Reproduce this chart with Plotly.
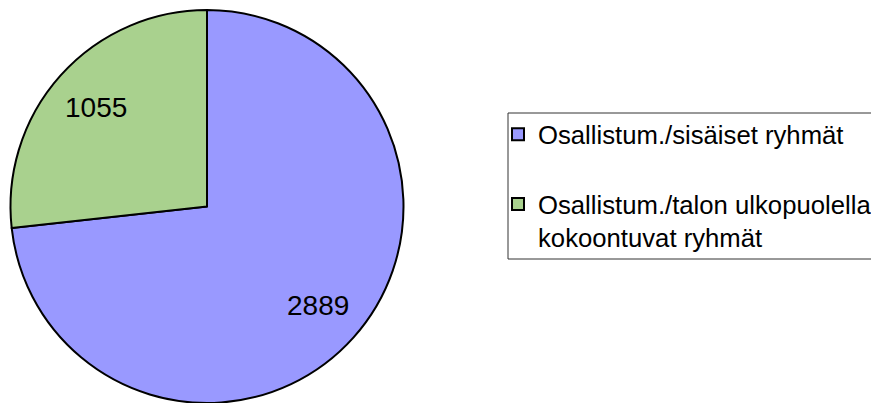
import math
import plotly.graph_objects as go

categories = ["Osallistum./sisäiset ryhmät", "Osallistum./talon ulkopuolella<br>kokoontuvat ryhmät"]
values = [2889, 1055]
colors = ["#9999FF", "#A9D18E"]

W, H = 871, 403
dom_x = [10 / W, 404 / W]
dom_y = [0.0, 1 - 10 / H]
label_r = 0.755  # label distance as a fraction of the radius
FONT = "Liberation Sans, Arial, sans-serif"

# extra blank line after the first entry reproduces the legend spacing
legend_labels = [categories[0] + "<br> ", categories[1]]

fig = go.Figure(go.Pie(
    labels=legend_labels,
    values=values,
    sort=False,
    direction="clockwise",
    rotation=0,
    marker=dict(colors=colors, line=dict(color="#000000", width=2)),
    textinfo="none",
    domain=dict(x=dom_x, y=dom_y),
    hoverinfo="label+value",
))

# value labels placed along each slice bisector
total = sum(values)
cx = (dom_x[0] + dom_x[1]) / 2 * W
cy = (1 - (dom_y[0] + dom_y[1]) / 2) * H
R = min((dom_x[1] - dom_x[0]) * W, (dom_y[1] - dom_y[0]) * H) / 2
cum = 0
for v in values:
    mid = (cum + v / 2) / total * 2 * math.pi
    cum += v
    px = cx + label_r * R * math.sin(mid)
    py = cy - label_r * R * math.cos(mid)
    fig.add_annotation(
        x=px / W, y=1 - py / H, xref="paper", yref="paper",
        text=str(v), showarrow=False,
        font=dict(family=FONT, size=28, color="#000000"),
        xanchor="center", yanchor="middle",
    )

# legend frame (its right side runs off the picture)
fx0, fx1 = 508 / W, 1.0
fy_top, fy_bot = 1 - 113 / H, 1 - 259 / H
fig.add_shape(
    type="path", xref="paper", yref="paper",
    path=f"M {fx1} {fy_top} L {fx0} {fy_top} L {fx0} {fy_bot} L {fx1} {fy_bot}",
    line=dict(color="#333333", width=1),
    layer="below",
)

fig.update_layout(
    width=W,
    height=H,
    margin=dict(l=0, r=0, t=0, b=0, autoexpand=False),
    paper_bgcolor="#FFFFFF",
    plot_bgcolor="#FFFFFF",
    showlegend=True,
    legend=dict(
        x=498 / W,
        y=1 - 111 / H,
        xanchor="left",
        yanchor="top",
        bgcolor="rgba(0,0,0,0)",
        borderwidth=0,
        valign="top",
        font=dict(family=FONT, size=25.7, color="#000000"),
    ),
)

fig.write_html(
    "out.html",
    config={"displayModeBar": False},
    post_script="document.body.style.margin='0';document.body.style.overflow='hidden';",
)
